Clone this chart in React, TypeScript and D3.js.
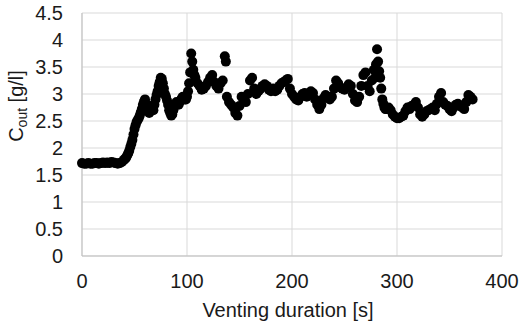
import * as d3 from 'd3';

// [time s, concentration g/l]
const flatPhase: [number, number][] = [
  [0, 1.72], [2, 1.71], [4, 1.71], [6, 1.72], [8, 1.71], [10, 1.71], [12, 1.72], [14, 1.72],
  [16, 1.71], [18, 1.72], [20, 1.73], [22, 1.72], [24, 1.73], [26, 1.72], [28, 1.74], [30, 1.73],
  [32, 1.72], [34, 1.71], [36, 1.72], [38, 1.74],
];

const risePhase: [number, number][] = [
  [40, 1.78], [41, 1.8], [42, 1.82], [43, 1.86], [44, 1.9], [45, 1.95], [46, 2.02], [47, 2.08],
  [48, 2.15], [49, 2.25], [50, 2.35], [51, 2.42], [52, 2.48], [53, 2.52], [54, 2.55], [55, 2.6],
  [56, 2.66], [57, 2.72], [58, 2.8], [59, 2.86], [60, 2.9], [61, 2.82], [62, 2.72], [63, 2.68],
  [64, 2.65], [65, 2.7], [66, 2.78], [67, 2.74], [68, 2.7], [69, 2.8], [70, 2.9], [71, 2.98],
  [72, 3.05], [73, 3.15], [74, 3.22], [75, 3.3], [76, 3.28], [77, 3.2], [78, 3.1], [79, 3.0],
  [80, 2.95], [81, 2.88], [82, 2.8], [83, 2.7], [84, 2.65], [85, 2.6], [86, 2.62], [87, 2.7],
  [88, 2.78], [89, 2.82], [90, 2.85], [91, 2.82], [92, 2.8], [93, 2.85], [94, 2.88], [95, 2.92],
  [96, 2.95], [97, 2.92], [98, 2.9], [99, 2.9], [100, 2.95], [101, 3.05],
];

const plateau: [number, number][] = [
  [102, 3.2], [103, 3.4], [104, 3.75], [105, 3.6], [106, 3.45], [107, 3.35], [108, 3.3],
  [110, 3.2], [112, 3.15], [114, 3.08], [116, 3.1], [118, 3.15], [120, 3.22], [122, 3.3],
  [124, 3.35], [126, 3.22], [128, 3.15], [130, 3.1], [132, 3.2], [134, 3.25], [136, 3.7],
  [137, 3.6], [138, 2.95], [140, 2.85], [142, 2.8], [144, 2.75], [146, 2.65], [148, 2.6],
  [150, 2.78], [152, 2.95], [154, 2.9], [156, 2.85], [158, 3.0], [160, 3.25], [162, 3.3],
  [164, 3.1], [166, 3.0], [168, 3.05], [170, 3.1], [172, 3.15], [174, 3.18], [176, 3.15],
  [178, 3.08], [180, 3.05], [182, 3.1], [184, 3.05], [186, 3.08], [188, 3.15], [190, 3.2],
  [192, 3.22], [194, 3.25], [196, 3.28], [198, 3.1], [200, 3.0], [202, 2.95], [204, 2.9],
  [206, 2.88], [208, 2.95], [210, 3.0], [212, 3.02], [214, 2.95], [216, 3.0], [218, 3.05],
  [220, 3.02], [222, 2.9], [224, 2.8], [226, 2.72], [228, 2.8], [230, 2.92], [232, 2.98],
  [234, 2.95], [236, 2.9], [238, 2.95], [240, 3.1], [242, 3.25], [244, 3.2], [246, 3.12],
  [248, 3.1], [250, 3.08], [252, 3.12], [254, 3.18], [256, 3.15], [258, 3.0], [260, 2.88],
  [262, 2.85], [264, 2.95], [266, 3.15], [268, 3.35], [270, 3.4], [272, 3.15], [274, 3.05],
  [276, 3.25], [278, 3.45], [279, 3.3], [280, 3.55], [281, 3.83], [282, 3.6], [283, 3.42],
  [284, 3.3], [285, 3.1], [286, 2.9], [287, 2.82], [288, 2.75], [289, 2.72],
];

const lateDip: [number, number][] = [
  [290, 2.72], [292, 2.75], [294, 2.7], [296, 2.62], [298, 2.58], [300, 2.55], [302, 2.55],
  [304, 2.58], [306, 2.6], [308, 2.68], [310, 2.75], [312, 2.72], [314, 2.78], [316, 2.8],
  [318, 2.85], [320, 2.75], [322, 2.62], [324, 2.58], [326, 2.62], [328, 2.68], [330, 2.7],
  [332, 2.72], [334, 2.75], [336, 2.7], [338, 2.82], [340, 2.95], [342, 3.02], [344, 2.85],
  [346, 2.8], [348, 2.78], [350, 2.72], [352, 2.68], [354, 2.75], [356, 2.8], [358, 2.82],
  [360, 2.78], [362, 2.75], [364, 2.72], [366, 2.85], [368, 2.98], [370, 2.95], [372, 2.9],
];

const xTicks = [0, 100, 200, 300, 400];
const yTicks = [0, 0.5, 1, 1.5, 2, 2.5, 3, 3.5, 4, 4.5];

export default function App() {
  const width = 529;
  const height = 325;
  const plot = { left: 82, right: 502, top: 13, bottom: 256 };

  const x = d3.scaleLinear().domain([0, 400]).range([plot.left, plot.right]);
  const y = d3.scaleLinear().domain([0, 4.5]).range([plot.bottom, plot.top]);

  const points = [...flatPhase, ...risePhase, ...plateau, ...lateDip];
  const font = "'Liberation Sans', Arial, sans-serif";

  return (
    <svg
      width={width}
      height={height}
      style={{ position: 'absolute', left: 0, top: 0, background: '#fff' }}
      fontFamily={font}
    >
      {yTicks.map((t) => (
        <line key={`gy${t}`} x1={plot.left} x2={plot.right} y1={y(t)} y2={y(t)} stroke="#d9d9d9" />
      ))}
      {xTicks.map((t) => (
        <line key={`gx${t}`} x1={x(t)} x2={x(t)} y1={plot.top} y2={plot.bottom} stroke="#d9d9d9" />
      ))}
      <line x1={plot.left} x2={plot.left} y1={plot.top} y2={plot.bottom} stroke="#bfbfbf" />
      <line x1={plot.left} x2={plot.right} y1={plot.bottom} y2={plot.bottom} stroke="#bfbfbf" />

      {yTicks.map((t) => (
        <text key={`ly${t}`} x={63} y={y(t) + 7} textAnchor="end" fontSize={20} fill="#1a1a1a">
          {t}
        </text>
      ))}
      {xTicks.map((t) => (
        <text key={`lx${t}`} x={x(t)} y={288} textAnchor="middle" fontSize={20} fill="#1a1a1a">
          {t}
        </text>
      ))}

      {points.map(([t, v]) => (
        <circle key={t} cx={x(t)} cy={y(v)} r={5} fill="#000" />
      ))}

      <text x={(plot.left + plot.right) / 2 - 4} y={317} textAnchor="middle" fontSize={20} fill="#1a1a1a">
        Venting duration [s]
      </text>
      <text transform="translate(23,106) rotate(-90)" textAnchor="middle" fontSize={20} fill="#1a1a1a">
        C
        <tspan fontSize={14} dy={4}>out</tspan>
        <tspan dy={-4}> [g/l]</tspan>
      </text>
    </svg>
  );
}
